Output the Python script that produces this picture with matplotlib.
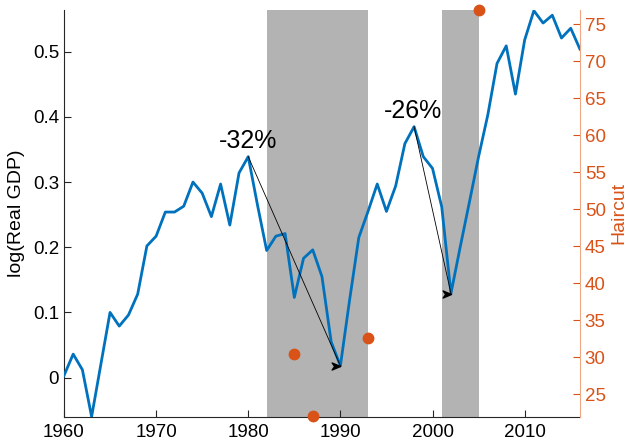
import matplotlib
matplotlib.use("Agg")
import matplotlib.pyplot as plt
from matplotlib.path import Path

plt.rcParams['font.family'] = ['Liberation Sans', 'DejaVu Sans']

# data
years = list(range(1960, 2017))
log_gdp = [0.003, 0.036, 0.012, -0.06, 0.02, 0.100, 0.079, 0.096, 0.128, 0.202,
           0.217, 0.254, 0.254, 0.263, 0.300, 0.283, 0.247, 0.297, 0.234, 0.314,
           0.339, 0.265, 0.195, 0.217, 0.221, 0.123, 0.183, 0.196, 0.155, 0.055,
           0.018, 0.119, 0.215, 0.255, 0.297, 0.255, 0.294, 0.359, 0.385, 0.339,
           0.321, 0.262, 0.129, 0.200, 0.269, 0.339, 0.403, 0.482, 0.509, 0.435,
           0.518, 0.563, 0.544, 0.556, 0.521, 0.536, 0.504]

haircut_years = [1985, 1987, 1993, 2005]
haircut = [30.4, 22.0, 32.6, 76.9]

crisis_start = [1982, 2001]
crisis_end = [1993, 2005]

drop_from = [1980, 1998]
drop_to = [1990, 2002]
drop_labels = ['-32%', '-26%']
label_x = [1980, 1997.9]

blue = '#0072BD'
orange = '#D95319'
axcol = '#262626'

fig = plt.figure(figsize=(6.29, 4.43), dpi=100)
ax = fig.add_axes([0.1017, 0.0594, 0.8203, 0.918])

for s, e in zip(crisis_start, crisis_end):
    ax.axvspan(s, e, color='#B3B3B3', lw=0, zorder=0)

ax.plot(years, log_gdp, color=blue, lw=2, zorder=3)

head = Path([(0, 0), (-1, 0.42), (-0.7, 0), (-1, -0.42), (0, 0)],
            [Path.MOVETO, Path.LINETO, Path.LINETO, Path.LINETO, Path.CLOSEPOLY])
for y0, y1, lab, lx in zip(drop_from, drop_to, drop_labels, label_x):
    v0 = log_gdp[years.index(y0)]
    v1 = log_gdp[years.index(y1)]
    ax.plot([y0, y1], [v0, v1], color='black', lw=0.6, zorder=4)
    ax.plot([y1], [v1], marker=head, ms=12, color='black', lw=0, zorder=5)
    ax.text(lx, v0 + 0.005, lab, ha='center', va='bottom', fontsize=18, color='black')

ax.set_xlim(1960, 2016)
ax.set_ylim(-0.06, 0.564)
ax.set_xticks([1960, 1970, 1980, 1990, 2000, 2010])
ax.set_yticks([0, 0.1, 0.2, 0.3, 0.4, 0.5])
ax.set_yticklabels(['0', '0.1', '0.2', '0.3', '0.4', '0.5'])
ax.set_ylabel('log(Real GDP)', fontsize=14, color='black', labelpad=6)
ax.tick_params(direction='in', length=5, labelsize=13.5, colors=axcol, labelcolor='black')
ax.tick_params(axis='x', pad=5)
ax.spines['top'].set_visible(False)
ax.spines['right'].set_visible(False)
for sp in ['left', 'bottom']:
    ax.spines[sp].set_color(axcol)
    ax.spines[sp].set_linewidth(0.8)

ax2 = ax.twinx()
ax2.plot(haircut_years, haircut, 'o', color=orange, ms=7.5, clip_on=False, zorder=6)
ax2.set_ylim(21.97, 76.93)
ax2.set_yticks([25, 30, 35, 40, 45, 50, 55, 60, 65, 70, 75])
ax2.set_ylabel('Haircut', fontsize=14, color=orange, labelpad=3)
ax2.tick_params(direction='in', length=5, labelsize=13.5, colors=orange)
for sp in ['top', 'left', 'bottom']:
    ax2.spines[sp].set_visible(False)
ax2.spines['right'].set_color('#F0A884')
ax2.spines['right'].set_linewidth(0.8)

fig.savefig('out.png', dpi=100)
